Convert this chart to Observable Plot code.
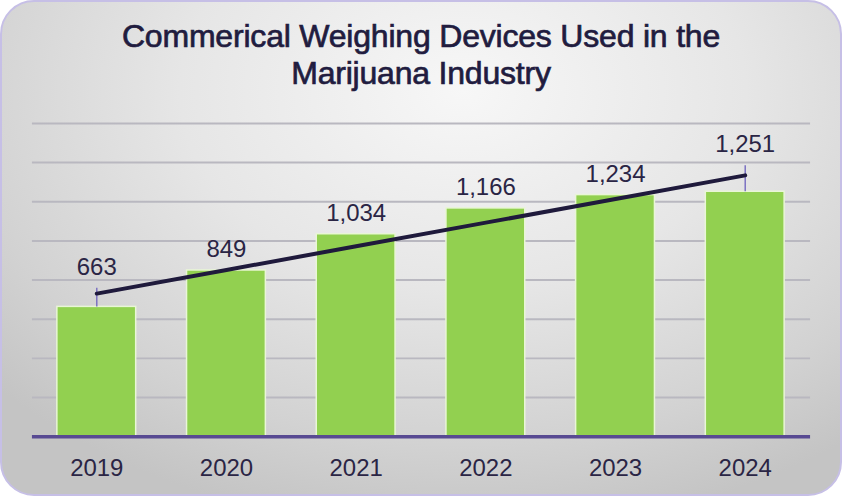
<!DOCTYPE html>
<html>
<head>
<meta charset="utf-8">
<script src="https://cdn.jsdelivr.net/npm/d3@7"></script>
<script src="https://cdn.jsdelivr.net/npm/@observablehq/plot@0.6"></script>
<style>
  html, body { margin: 0; padding: 0; background: #ffffff; }
  #card {
    position: relative;
    width: 838px; height: 492px;
    margin: 0;
    border: 2px solid #c6bfe6;
    border-radius: 34px;
    box-sizing: content-box;
    overflow: hidden;
    background: radial-gradient(ellipse 75% 90% at 55% 18%, #f7f7f7 0%, #e6e6e6 45%, #d2d2d2 80%, #c4c4c4 100%);
    font-family: "Liberation Sans", Arial, sans-serif;
  }
  #title {
    position: absolute; left: -2px; top: 16px; width: 842px;
    text-align: center;
    font-family: "Liberation Sans", Arial, sans-serif;
    font-size: 32px; line-height: 37px;
    color: #211c3f;
    letter-spacing: -0.2px;
    -webkit-text-stroke: 0.7px #211c3f;
  }
  #chart { position: absolute; left: -2px; top: 96px; }
</style>
</head>
<body>
<div id="card">
  <div id="title">Commerical Weighing Devices Used in the<br>Marijuana Industry</div>
  <div id="chart"></div>
</div>
<script>
const years = ["2019", "2020", "2021", "2022", "2023", "2024"];
const devices = [663, 849, 1034, 1166, 1234, 1251];
const errorTops = [758, null, null, null, null, 1384];
const gridTicks = [200, 400, 600, 800, 1000, 1200, 1400, 1600];

const data = years.map((year, i) => ({year, value: devices[i], errTop: errorTops[i]}));

// least-squares trend line over the year index
const n = devices.length;
const mx = d3.mean(d3.range(n));
const my = d3.mean(devices);
const slope = d3.sum(devices, (v, i) => (i - mx) * (v - my)) / d3.sum(d3.range(n), i => (i - mx) ** 2);
const intercept = my - slope * mx;
const trend = years.map((year, i) => ({year, value: intercept + slope * i}));

const fmt = d3.format(",");

const chart = Plot.plot({
  width: 842,
  height: 398,
  marginTop: 25,
  marginBottom: 59,
  marginLeft: 32,
  marginRight: 30,
  style: {background: "transparent", fontFamily: "Liberation Sans, Arial, sans-serif", overflow: "visible"},
  x: {domain: years, paddingInner: 0.39, paddingOuter: 0.195, label: null},
  y: {domain: [0, 1600], axis: null},
  marks: [
    Plot.ruleY(gridTicks, {stroke: "#b9b8c0", strokeWidth: 2}),
    Plot.barY(data, {x: "year", y: "value", fill: "#92d050", stroke: "#e9f6d6", strokeWidth: 1.5}),
    Plot.ruleY([0], {stroke: "#584a92", strokeWidth: 3.5}),
    Plot.ruleX(data.filter(d => d.errTop != null), {x: "year", y1: "value", y2: "errTop", stroke: "#7c72c2", strokeWidth: 1.5}),
    Plot.line(trend, {x: "year", y: "value", stroke: "#1f1a3c", strokeWidth: 4, strokeLinecap: "round"}),
    Plot.text(data, {x: "year", y: d => d.errTop ?? d.value, text: d => fmt(d.value), dy: -21, fontSize: 24, fill: "#2a2545"}),
    Plot.axisX({tickSize: 0, tickPadding: 22, fontSize: 24, color: "#2a2545", label: null})
  ]
});
document.getElementById("chart").appendChild(chart);
</script>
</body>
</html>
